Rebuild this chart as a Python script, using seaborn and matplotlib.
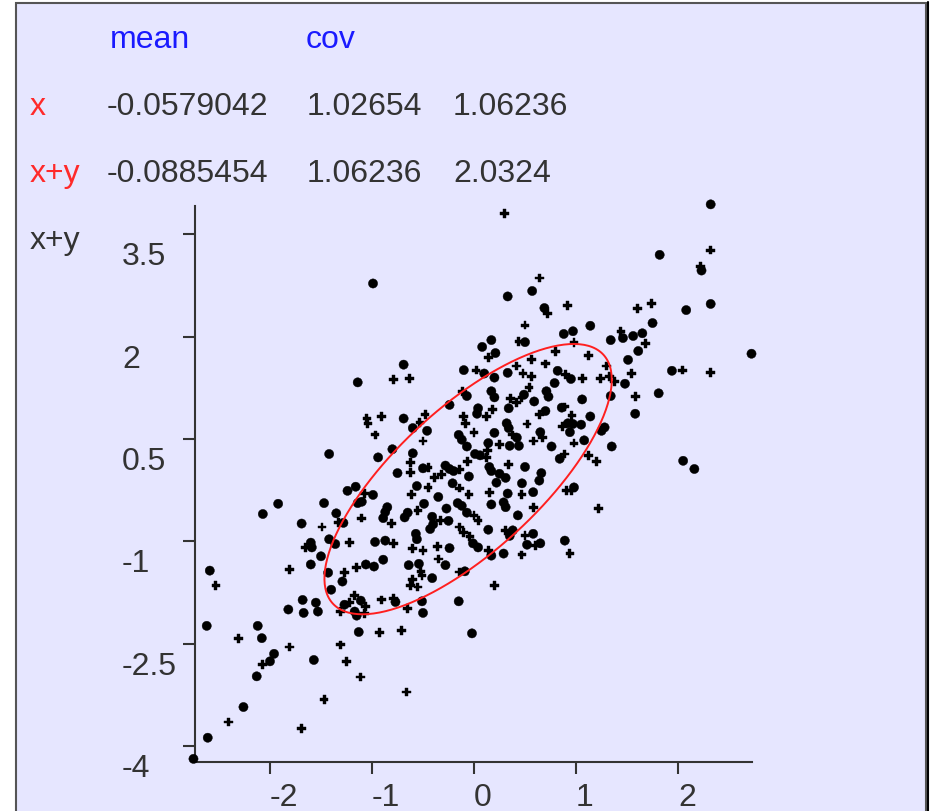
import numpy as np
import pandas as pd
import matplotlib
matplotlib.use("Agg")
import matplotlib.pyplot as plt
import seaborn as sns
from matplotlib.transforms import ScaledTranslation
from matplotlib.patches import Rectangle
from matplotlib.lines import Line2D

# ---- sample: x against x+y ----
x_vals = [
    -0.99, -0.69, -1.14, -0.79, -0.63, -0.10, 0.02, 0.30, 2.32, 2.32, 1.82, 2.22, 2.23, 0.64, 0.57,
    0.33, 0.69, 0.72, 0.92, 1.60, 1.74, 2.08, 2.32, 0.50, 1.14, 1.75, 1.44, 1.56, 1.46, 1.65,
    1.68, 1.34, 1.61, 1.51, 0.88, 0.97, 0.98, 0.44, 0.50, 0.17, 0.08, 0.21, 0.14, 0.80, 1.12,
    0.56, 0.70, 0.42, 1.30, 1.94, 2.04, 2.32, 2.72, 0.10, 0.33, 0.20, 0.48, 0.56, 0.82, 0.90,
    0.95, 1.06, 1.24, 1.33, 1.38, 1.48, 1.54, 0.79, 0.54, -1.05, -1.04, -0.91, -0.97, -1.42, -0.94,
    -1.16, -1.24, -1.07, -0.99, -1.14, -1.10, -1.47, -1.92, -2.07, -1.35, -1.10, -0.89, -1.69, -1.49, -1.33,
    -1.28, -1.42, -1.36, -1.22, -0.97, -1.60, -1.65, -1.59, -1.50, -0.89, -1.60, -1.06, -0.98, -1.15, -1.81,
    -2.59, -1.43, -1.27, -0.07, -0.11, 0.17, 0.20, 0.49, 0.47, 0.59, 0.71, 0.73, 0.36, 0.42, 0.34,
    0.18, 0.04, 0.03, 0.12, -0.10, -0.08, -0.24, -0.48, -0.69, 0.70, 0.64, 0.86, 0.87, -0.53, -0.60,
    -0.46, -0.50, -0.80, 0.32, 0.34, 0.52, 0.38, 0.42, 0.35, 0.44, 0.20, 0.00, -0.15, -0.12, -0.07,
    0.01, 0.06, 0.13, 0.14, 0.25, 0.65, 0.67, 0.58, 0.76, 0.84, 0.89, -0.60, -0.62, -0.62, -0.75,
    -0.50, -0.45, -0.28, -0.24, -0.20, -0.14, -0.32, -0.39, -0.05, -0.06, 0.12, 0.15, 0.17, 0.34, 0.50,
    0.25, 0.31, 0.22, 0.47, 0.66, 0.64, -0.21, -0.56, -0.45, -0.61, -0.35, -0.14, -0.05, 0.15, 0.33,
    0.47, 0.58, 0.91, -0.49, -0.55, -0.65, -0.68, -0.85, -0.87, -0.81, -0.27, -0.16, -0.12, -0.07, 0.17,
    0.29, 0.31, 0.58, -0.41, -0.40, -0.33, -0.25, 0.04, 0.00, 0.43, -0.14, -0.43, -0.57, -0.56, -0.10,
    -0.04, 0.14, 0.31, 0.38, 0.35, 0.58, 0.50, 0.89, 0.65, 0.60, 0.52, -0.87, -0.79, -0.60, -0.50,
    -0.36, -0.24, -0.01, 0.04, 0.14, 0.17, 0.29, 0.47, -0.64, -0.54, -0.35, -0.28, -0.09, -0.52, 1.81,
    1.58, 1.34, 1.06, 1.58, 0.89, 0.96, 1.14, 0.92, 0.97, 1.05, 0.94, 1.28, 1.25, 1.08, 0.98,
    1.35, 1.12, 1.20, 2.05, 2.16, 0.96, 0.98, 1.22, 0.94, -2.53, -1.40, -1.29, -0.51, -0.60, -0.62,
    -0.55, -0.41, -0.14, 0.20, -1.68, -1.82, -1.67, -1.55, -1.53, -1.17, -1.22, -1.27, -1.11, -1.06, -1.31,
    -1.17, -1.15, -1.07, -0.91, -0.79, -0.77, -0.65, -0.51, -0.50, -0.15, -2.62, -2.12, -2.08, -2.31, -1.81,
    -1.96, -2.00, -2.07, -2.13, -1.57, -1.31, -1.25, -1.13, -0.93, -0.71, -1.11, -0.02, -0.66, -1.47, -2.26,
    -2.41, -1.69, -2.61, -2.75,
]
xy_vals = [
    2.78, 1.59, 1.33, 1.37, 1.39, 1.51, 1.51, 3.81, 3.94, 3.27, 3.20, 3.03, 2.97, 2.86, 2.67,
    2.59, 2.42, 2.34, 2.46, 2.41, 2.49, 2.39, 2.48, 2.17, 2.16, 2.20, 2.08, 2.01, 1.98, 2.05,
    1.90, 1.95, 1.79, 1.66, 2.04, 2.08, 1.91, 1.93, 1.92, 1.95, 1.85, 1.76, 1.69, 1.78, 1.72,
    1.66, 1.60, 1.57, 1.57, 1.50, 1.51, 1.48, 1.75, 1.46, 1.47, 1.40, 1.46, 1.42, 1.50, 1.45,
    1.38, 1.39, 1.39, 1.42, 1.34, 1.31, 1.46, 1.32, 1.26, 0.80, 0.73, 0.83, 0.56, 0.28, 0.23,
    -0.20, -0.26, -0.30, -0.32, -0.44, -0.42, -0.44, -0.45, -0.60, -0.59, -0.66, -0.66, -0.74, -0.79, -0.72,
    -0.73, -0.97, -1.04, -1.02, -1.01, -1.02, -1.09, -1.09, -1.22, -1.27, -1.34, -1.34, -1.37, -1.38, -1.41,
    -1.43, -1.46, -1.46, 1.13, 1.20, 1.20, 1.11, 1.15, 1.11, 1.05, 1.20, 1.12, 1.09, 1.04, 0.95,
    0.93, 0.95, 0.87, 0.83, 0.83, 0.73, 1.00, 0.86, 0.80, 0.91, 0.86, 0.96, 0.68, 0.74, 0.66,
    0.62, 0.47, 0.35, 0.73, 0.66, 0.72, 0.56, 0.52, 0.40, 0.40, 0.59, 0.59, 0.56, 0.49, 0.39,
    0.28, 0.26, 0.33, 0.44, 0.42, 0.60, 0.52, 0.47, 0.39, 0.21, 0.28, 0.29, 0.15, 0.01, 0.00,
    0.07, 0.08, 0.11, 0.06, 0.03, 0.05, -0.02, -0.06, -0.05, 0.17, 0.23, 0.09, 0.03, 0.13, 0.09,
    -0.01, -0.07, -0.14, -0.15, 0.00, -0.11, -0.15, -0.19, -0.21, -0.31, -0.35, -0.22, -0.31, -0.28, -0.30,
    -0.31, -0.28, -0.26, -0.45, -0.55, -0.58, -0.65, -0.50, -0.57, -0.74, -0.52, -0.44, -0.48, -0.58, -0.46,
    -0.43, -0.50, -0.51, -0.64, -0.75, -0.70, -0.70, -0.70, -0.62, -0.62, -0.79, -0.82, -0.89, -0.97, -0.87,
    -0.93, -0.83, -0.84, -0.84, -0.92, -0.89, -0.92, -0.99, -1.03, -1.06, -1.05, -0.99, -1.03, -1.10, -1.14,
    -1.08, -1.10, -1.03, -1.09, -1.14, -1.21, -1.18, -1.20, -1.35, -1.33, -1.26, -1.35, -1.44, -1.44, 1.17,
    1.12, 1.13, 1.08, 0.87, 0.97, 0.85, 0.83, 0.73, 0.72, 0.71, 0.60, 0.67, 0.62, 0.48, 0.44,
    0.39, 0.26, 0.17, 0.18, 0.06, -0.25, -0.21, -0.52, -1.18, -1.65, -1.71, -1.59, -1.50, -1.56, -1.65,
    -1.67, -1.54, -1.45, -1.65, -1.86, -2.00, -2.05, -1.90, -2.03, -1.80, -1.90, -1.93, -1.87, -1.96, -2.03,
    -2.03, -2.09, -2.06, -1.86, -1.84, -1.89, -1.98, -1.88, -2.05, -1.88, -2.24, -2.24, -2.42, -2.43, -2.55,
    -2.65, -2.76, -2.81, -2.98, -2.74, -2.52, -2.76, -2.33, -2.34, -2.31, -2.99, -2.35, -3.21, -3.32, -3.43,
    -3.65, -3.74, -3.88, -4.19,
]
# how many observations fall on the same plotted spot (1 or 2)
multiplicity = [
    2, 2, 2, 1, 1, 2, 1, 1, 2, 1, 2, 1, 2, 1, 2,
    2, 2, 1, 1, 1, 1, 2, 2, 1, 2, 2, 1, 2, 2, 2,
    1, 2, 2, 2, 2, 2, 1, 1, 2, 2, 2, 2, 1, 1, 1,
    1, 1, 1, 1, 2, 1, 1, 2, 2, 2, 2, 1, 1, 2, 1,
    2, 1, 1, 1, 1, 2, 1, 2, 1, 1, 1, 1, 1, 2, 2,
    2, 2, 1, 2, 2, 2, 2, 2, 2, 2, 1, 2, 2, 1, 1,
    2, 2, 2, 1, 2, 2, 1, 2, 2, 2, 2, 2, 2, 1, 1,
    2, 2, 1, 2, 1, 2, 2, 2, 1, 2, 2, 2, 1, 1, 2,
    1, 2, 2, 1, 1, 1, 2, 1, 2, 2, 1, 2, 1, 1, 2,
    2, 1, 2, 2, 2, 1, 1, 2, 2, 2, 2, 1, 2, 2, 2,
    2, 2, 1, 2, 1, 2, 1, 1, 2, 2, 1, 2, 1, 1, 2,
    2, 1, 2, 2, 2, 1, 1, 1, 2, 1, 1, 2, 2, 1, 2,
    2, 2, 2, 2, 2, 2, 2, 2, 1, 1, 2, 1, 1, 1, 2,
    1, 2, 1, 2, 1, 2, 2, 2, 2, 1, 2, 2, 2, 2, 2,
    2, 2, 1, 2, 2, 1, 2, 1, 1, 2, 1, 2, 2, 2, 1,
    1, 2, 1, 2, 2, 2, 1, 2, 2, 1, 2, 2, 1, 1, 1,
    1, 2, 2, 2, 1, 2, 2, 1, 2, 2, 1, 2, 2, 1, 2,
    1, 2, 2, 2, 1, 1, 2, 2, 2, 2, 2, 2, 2, 2, 1,
    2, 1, 1, 2, 2, 1, 2, 1, 1, 1, 2, 2, 1, 1, 1,
    1, 2, 1, 1, 2, 2, 2, 2, 2, 1, 1, 2, 2, 1, 1,
    2, 2, 1, 1, 1, 2, 1, 2, 2, 2, 2, 2, 2, 1, 1,
    2, 2, 1, 2, 2, 1, 1, 2, 1, 1, 1, 2, 1, 1, 2,
    1, 1, 2, 2,
]

# summary statistics shown in the header table
row_names = ["x", "x+y"]
means = [-0.0579042, -0.0885454]
cov = [[1.02654, 1.06236],
       [1.06236, 2.0324]]
ellipse_k = 1.39  # radius of the drawn covariance ellipse (in standard deviations)

x_ticks = [-2, -1, 0, 1, 2]
y_ticks = [-4, -2.5, -1, 0.5, 2, 3.5]
x_tick_labels = ["-2", "-1", "0", "1", "2"]
y_tick_labels = ["-4", "-2.5", "-1", "0.5", "2", "3.5"]

df = pd.DataFrame({"x": x_vals, "x+y": xy_vals, "n": multiplicity})

# ---- figure ----
sns.set_theme(style="white")
plt.rcParams["font.family"] = ["Liberation Sans", "DejaVu Sans"]

W, H, DPI = 930, 812, 100
BG = "#E6E6FF"
INK = "#333333"
FS = 23

fig = plt.figure(figsize=(W / DPI, H / DPI), dpi=DPI, facecolor="white")

def fx(px):
    return px / W

def fy(py):
    return 1 - py / H

# panel frame, kept underneath everything else
fig.patches.append(Rectangle((fx(16), -0.02), fx(926) - fx(16), fy(4) + 0.02,
                             transform=fig.transFigure, facecolor=BG,
                             edgecolor="#555555", linewidth=1.5, zorder=-10))
fig.add_artist(Line2D([fx(928), fx(928)], [0, fy(3)], transform=fig.transFigure,
                      color="black", linewidth=1.5, zorder=-9))

# header table: means and covariance
fig.text(fx(110), fy(48), "mean", color="#1a1aff", fontsize=FS, va="baseline")
fig.text(fx(306), fy(48), "cov", color="#1a1aff", fontsize=FS, va="baseline")
row_base = [115, 182]
for i, name in enumerate(row_names):
    yb = fy(row_base[i])
    fig.text(fx(30), yb, name, color="#ff2a2a", fontsize=FS, va="baseline")
    fig.text(fx(107), yb, f"{means[i]:g}", color=INK, fontsize=FS, va="baseline")
    fig.text(fx(307), yb, f"{cov[i][0]:g}", color=INK, fontsize=FS, va="baseline")
    fig.text(fx(453), yb, f"{cov[i][1]:g}", color=INK, fontsize=FS, va="baseline")

# scatter axes
ax = fig.add_axes([fx(195), fy(763), fx(752) - fx(195), fy(207) - fy(763)])
ax.set_facecolor("none")
ax.set_zorder(1)

# single points as small crosses, doubled points as bigger dots
sns.scatterplot(data=df, x="x", y="x+y", size="n", sizes={1: 40, 2: 44},
                style="n", markers={1: "P", 2: "o"},
                color="black", edgecolor="black", linewidth=0.3, legend=False,
                ax=ax, clip_on=False, zorder=3)

# covariance ellipse around the mean
t = np.linspace(0, 2 * np.pi, 240)
L = np.linalg.cholesky(np.array(cov))
ring = np.array(means)[:, None] + ellipse_k * L @ np.vstack([np.cos(t), np.sin(t)])
ax.plot(ring[0], ring[1], color="#ff1f1f", linewidth=1.4, zorder=4)

ax.set_xlim(-2.735, 2.725)
ax.set_ylim(-4.236, 3.916)
ax.set_xlabel("")
ax.set_ylabel("")
for side in ("top", "right"):
    ax.spines[side].set_visible(False)
for side in ("left", "bottom"):
    ax.spines[side].set_color(INK)
    ax.spines[side].set_linewidth(1.5)

ax.set_xticks(x_ticks)
ax.set_yticks(y_ticks)
ax.tick_params(axis="both", which="both", direction="out", length=8.6, width=1.5,
               color=INK, bottom=True, left=True, labelbottom=False, labelleft=False)

# tick labels: y labels sit below their tick, x labels start at their tick
y_off = ax.get_yaxis_transform() + ScaledTranslation(-73 / DPI, -30 / DPI, fig.dpi_scale_trans)
for v, lab in zip(y_ticks, y_tick_labels):
    ax.text(0, v, lab, transform=y_off, ha="left", va="baseline", fontsize=FS, color=INK,
            clip_on=False)
x_off = ax.get_xaxis_transform() + ScaledTranslation(0, -43 / DPI, fig.dpi_scale_trans)
for v, lab in zip(x_ticks, x_tick_labels):
    ax.text(v, 0, lab, transform=x_off, ha="left", va="baseline", fontsize=FS, color=INK,
            clip_on=False)

# axis name for the vertical variable
fig.text(fx(30), fy(249), "x+y", color=INK, fontsize=FS, va="baseline")

fig.savefig("out.png", dpi=DPI, facecolor="white")
